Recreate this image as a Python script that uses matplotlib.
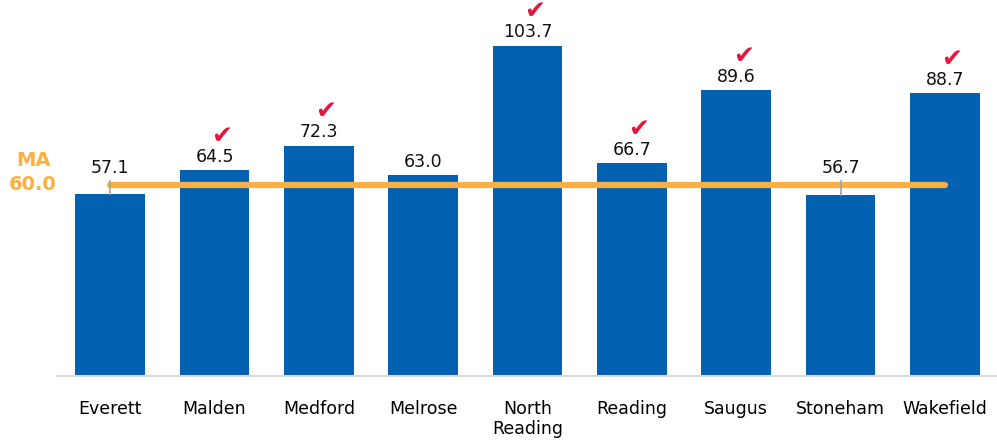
import numpy as np
import matplotlib.pyplot as plt

towns = ["Everett", "Malden", "Medford", "Melrose", "North\nReading",
         "Reading", "Saugus", "Stoneham", "Wakefield"]
values = [57.1, 64.5, 72.3, 63.0, 103.7, 66.7, 89.6, 56.7, 88.7]
checked = [False, True, True, False, True, True, True, False, True]
ma_value = 60.0

bar_color = "#0262B1"
line_color = "#FBB040"
check_color = "#E2173D"

fig = plt.figure(figsize=(9.97, 4.43), dpi=100)
ax = fig.add_axes([57 / 997, 67 / 443, 1 - 57 / 997, 1 - 67 / 443])

x = np.arange(len(towns))
ax.bar(x, values, width=0.67, color=bar_color, zorder=2)

# state average line across the bars
ax.plot([x[0], x[-1]], [ma_value, ma_value], color=line_color, lw=4.5,
        solid_capstyle="round", zorder=3)

for xi, v, ok in zip(x, values, checked):
    if v < ma_value:
        # leader from bar top to the label sitting above the line
        ax.plot([xi, xi], [v, ma_value + 1.3], color="#A0A0A0", lw=1.2, zorder=4)
        ly = ma_value + 1.6
    else:
        ly = v + 0.6
    ax.annotate(f"{v:.1f}", (xi, ly), xytext=(0, 2), textcoords="offset points",
                ha="center", va="bottom", fontsize=12.5, color="#111111")
    if ok:
        ax.annotate("\u2714", (xi, ly), xytext=(5, 15), textcoords="offset points",
                    ha="center", va="bottom", fontsize=18, color=check_color)

ax.text(-0.74, ma_value + 7.5, "MA", ha="center", va="center", fontsize=14,
        fontweight="bold", color=line_color, clip_on=False)
ax.text(-0.74, ma_value, "60.0", ha="center", va="center", fontsize=14,
        fontweight="bold", color=line_color, clip_on=False)

ax.set_xlim(-0.51, 8.5)
ax.set_ylim(0, 118)
ax.set_xticks(x)
ax.set_xticklabels(towns, fontsize=12.5, linespacing=1.2, va="top")
ax.tick_params(axis="x", length=0, pad=17)
ax.set_yticks([])
for side in ["top", "right", "left"]:
    ax.spines[side].set_visible(False)
ax.spines["bottom"].set_color("#D9D9D9")
ax.spines["bottom"].set_linewidth(1.5)

fig.savefig("out.png", dpi=100)
